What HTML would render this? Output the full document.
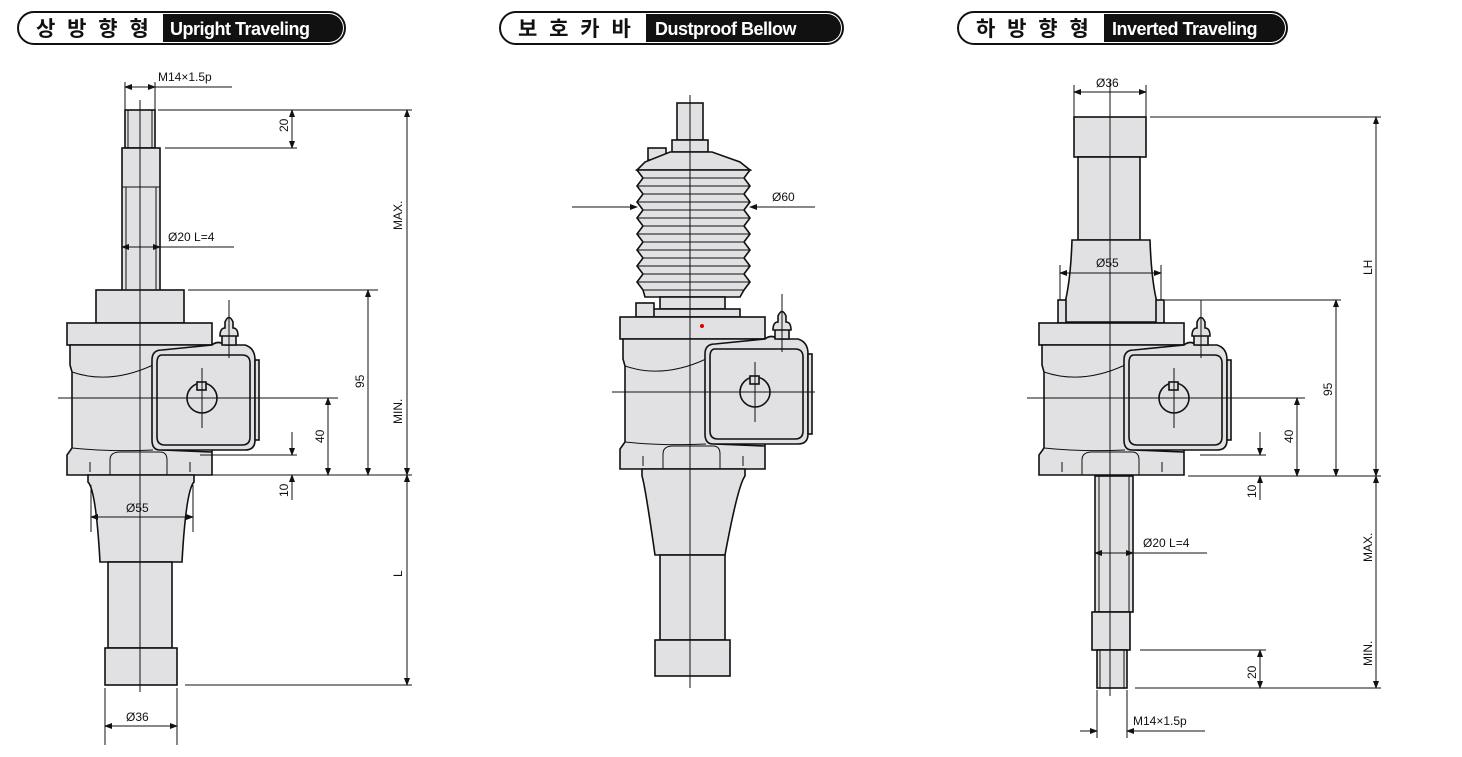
<!DOCTYPE html>
<html><head><meta charset="utf-8"><style>
body{margin:0;background:#fff;}
svg{display:block;font-family:"Liberation Sans","Noto Sans CJK KR",sans-serif;}
.p{fill:#e1e1e3;stroke:#111;stroke-width:1.6}
.l{stroke:#111;stroke-width:1;fill:none}
.t{font-size:12px;fill:#111}
.h{font-size:21px;font-weight:bold;fill:#111;letter-spacing:3px}
.w{font-size:18px;font-weight:bold;fill:#fff;letter-spacing:-0.5px}
</style></head><body>
<svg width="1462" height="757" viewBox="0 0 1462 757">
<defs>
<marker id="a" markerWidth="8" markerHeight="8" refX="7" refY="4" orient="auto-start-reverse" markerUnits="userSpaceOnUse"><path d="M0,1 L8,4 L0,7z" fill="#111"/></marker>
<g id="house">
<rect class="p" x="67" y="323" width="145" height="22"/>
<path class="p" d="M70,345 H212 L218,352 H160 Q153,352 153,360 V440 Q153,448 162,450 L212,452 V445 V475 H67 V455 L72,448 V372 L70,365 Z"/>
<path class="l" d="M72,372 Q110,385 153,365 M72,448 Q110,452 153,450 M110,475 V460 Q110,452 120,452 H160 Q167,452 167,460 V475 M90,462 V472 M190,462 V472"/>
<path class="p" d="M212,345 Q218,340 225,345 H245 Q255,348 255,360 V440 Q255,450 245,450 H160 Q152,450 152,440 V360 Q152,350 162,350 Z"/>
<path class="p" d="M162,355 H242 Q250,355 250,363 V437 Q250,445 242,445 H165 Q157,445 157,437 V363 Q157,355 162,355 Z"/>
<rect class="p" x="255" y="360" width="4" height="80"/>
<circle class="p" cx="202" cy="398" r="15"/>
<rect class="p" x="197" y="382" width="9" height="8"/>
<path class="p" d="M222,345 V336 H236 V345 Z M220,336 Q220,328 225,328 V322 Q229,313 233,322 V328 Q238,328 238,336 Z"/>
<path class="l" d="M202,368 V428 M229,300 V358"/>
</g>
</defs>

<!-- headers -->
<rect x="18" y="12" width="327" height="32" rx="16" fill="#fff" stroke="#111" stroke-width="2"/>
<path d="M163,14 H329 A14,14 0 0 1 329,42 H163 Z" fill="#111"/>
<text class="h" x="36" y="36">상 방 향 형</text><text class="w" x="170" y="35">Upright Traveling</text>
<rect x="500" y="12" width="343" height="32" rx="16" fill="#fff" stroke="#111" stroke-width="2"/>
<path d="M646,14 H827 A14,14 0 0 1 827,42 H646 Z" fill="#111"/>
<text class="h" x="518" y="36">보 호 카 바</text><text class="w" x="655" y="35">Dustproof Bellow</text>
<rect x="958" y="12" width="329" height="32" rx="16" fill="#fff" stroke="#111" stroke-width="2"/>
<path d="M1104,14 H1271 A14,14 0 0 1 1271,42 H1104 Z" fill="#111"/>
<text class="h" x="976" y="36">하 방 향 형</text><text class="w" x="1112" y="35">Inverted Traveling</text>

<!-- LEFT -->
<rect class="p" x="125" y="110" width="30" height="38"/>
<path class="l" d="M128,110 V148 M152,110 V148"/>
<rect class="p" x="122" y="148" width="38" height="175"/>
<path class="l" d="M122,187 H160 M126,187 V322 M156,187 V322"/>
<rect class="p" x="96" y="290" width="88" height="33"/>
<use href="#house"/>
<path class="p" d="M88,475 H194 V482 Q186,490 182,562 H100 Q96,490 88,482 Z"/>
<rect class="p" x="108" y="562" width="64" height="86"/>
<rect class="p" x="105" y="648" width="72" height="37"/>
<path class="l" d="M140,100 V692 M58,398 H338"/>
<!-- left dims -->
<path class="l" d="M125,82 V110 M155,82 V110 M155,87 H232"/>
<path class="l" d="M125,87 H155" marker-start="url(#a)" marker-end="url(#a)"/>
<text class="t" x="158" y="81">M14×1.5p</text>
<path class="l" d="M158,110 H412 M165,148 H297"/>
<path class="l" d="M292,110 V148" marker-start="url(#a)" marker-end="url(#a)"/>
<text class="t" transform="translate(288,132) rotate(-90)">20</text>
<path class="l" d="M122,247 H160" marker-start="url(#a)" marker-end="url(#a)"/><path class="l" d="M160,247 H234"/>
<text class="t" x="168" y="241">Ø20  L=4</text>
<path class="l" d="M188,290 H378 M196,475 H412 M200,455 H297"/>
<path class="l" d="M407,110 V475" marker-start="url(#a)" marker-end="url(#a)"/>
<path class="l" d="M407,475 V685" marker-start="url(#a)" marker-end="url(#a)"/>
<path class="l" d="M185,685 H412"/>
<text class="t" transform="translate(402,230) rotate(-90)">MAX.</text>
<text class="t" transform="translate(402,424) rotate(-90)">MIN.</text>
<text class="t" transform="translate(402,577) rotate(-90)">L</text>
<path class="l" d="M368,290 V475" marker-start="url(#a)" marker-end="url(#a)"/>
<text class="t" transform="translate(364,388) rotate(-90)">95</text>
<path class="l" d="M328,398 V475" marker-start="url(#a)" marker-end="url(#a)"/>
<text class="t" transform="translate(324,443) rotate(-90)">40</text>
<path class="l" d="M292,432 V455" marker-end="url(#a)"/><path class="l" d="M292,500 V475" marker-end="url(#a)"/>
<text class="t" transform="translate(288,497) rotate(-90)">10</text>
<path class="l" d="M91,485 V532 M193,485 V532"/>
<path class="l" d="M91,517 H193" marker-start="url(#a)" marker-end="url(#a)"/>
<text class="t" x="126" y="512">Ø55</text>
<path class="l" d="M105,688 V745 M177,688 V745"/>
<path class="l" d="M105,726 H177" marker-start="url(#a)" marker-end="url(#a)"/>
<text class="t" x="126" y="721">Ø36</text>

<!-- MIDDLE -->
<rect class="p" x="677" y="103" width="26" height="37"/>
<rect class="p" x="672" y="140" width="36" height="12"/>
<rect class="p" x="648" y="148" width="18" height="12"/>
<path class="p" d="M670,152 H712 L740,162 L750,170 L637,170 L645,162 Z"/>
<path class="p" d="M637,170 L750,170 L744,178 L750,186 L744,194 L750,202 L744,210 L750,218 L744,226 L750,234 L744,242 L750,250 L744,258 L750,266 L744,274 L750,282 L744,290 L740,297 H645 L643,290 L637,282 L643,274 L637,266 L643,258 L637,250 L643,242 L637,234 L643,226 L637,218 L643,210 L637,202 L643,194 L637,186 L643,178 Z"/>
<path class="l" d="M643,178 H744 M637,186 H750 M643,194 H744 M637,202 H750 M643,210 H744 M637,218 H750 M643,226 H744 M637,234 H750 M643,242 H744 M637,250 H750 M643,258 H744 M637,266 H750 M643,274 H744 M637,282 H750 M643,290 H744"/>
<rect class="p" x="660" y="297" width="65" height="12"/>
<rect class="p" x="640" y="309" width="100" height="8"/>
<rect class="p" x="636" y="303" width="18" height="14"/>
<use href="#house" transform="translate(553,-6)"/>
<rect class="p" x="650" y="476" width="16" height="10"/>
<path class="p" d="M642,469 H745 V476 Q738,485 725,555 H655 Q645,485 642,476 Z"/>
<rect class="p" x="660" y="555" width="65" height="85"/>
<rect class="p" x="655" y="640" width="75" height="36"/>
<path class="l" d="M690,95 V688 M612,392 H815"/>
<circle cx="702" cy="326" r="2" fill="#d00"/>
<path class="l" d="M572,207 H637 M815,207 H750" />
<path class="l" d="M620,207 H637" marker-end="url(#a)"/><path class="l" d="M767,207 H750" marker-end="url(#a)"/>
<text class="t" x="772" y="201">Ø60</text>

<!-- RIGHT -->
<rect class="p" x="1074" y="117" width="72" height="40"/>
<rect class="p" x="1078" y="157" width="62" height="83"/>
<path class="p" d="M1072,240 H1150 Q1152,300 1164,322 H1058 Q1070,300 1072,240 Z"/>
<rect class="p" x="1058" y="300" width="8" height="23"/>
<rect class="p" x="1156" y="300" width="8" height="23"/>
<use href="#house" transform="translate(972,0)"/>
<rect class="p" x="1095" y="476" width="38" height="136"/>
<path class="l" d="M1099,476 V612 M1129,476 V612"/>
<rect class="p" x="1092" y="612" width="38" height="38"/>
<rect class="p" x="1097" y="650" width="30" height="38"/>
<path class="l" d="M1100,650 V688 M1124,650 V688"/>
<path class="l" d="M1110,80 V696 M1027,398 H1305"/>
<!-- right dims -->
<path class="l" d="M1074,85 V117 M1146,85 V117"/>
<path class="l" d="M1074,92 H1146" marker-start="url(#a)" marker-end="url(#a)"/>
<text class="t" x="1096" y="87">Ø36</text>
<path class="l" d="M1060,265 V300 M1161,265 V300"/>
<path class="l" d="M1060,273 H1161" marker-start="url(#a)" marker-end="url(#a)"/>
<text class="t" x="1096" y="267">Ø55</text>
<path class="l" d="M1150,117 H1381 M1165,300 H1341 M1188,476 H1381 M1200,455 H1266 M1140,650 H1266 M1135,688 H1381"/>
<path class="l" d="M1376,117 V476" marker-start="url(#a)" marker-end="url(#a)"/>
<text class="t" transform="translate(1372,275) rotate(-90)">LH</text>
<path class="l" d="M1376,476 V688" marker-start="url(#a)" marker-end="url(#a)"/>
<text class="t" transform="translate(1372,562) rotate(-90)">MAX.</text>
<text class="t" transform="translate(1372,666) rotate(-90)">MIN.</text>
<path class="l" d="M1336,300 V476" marker-start="url(#a)" marker-end="url(#a)"/>
<text class="t" transform="translate(1332,396) rotate(-90)">95</text>
<path class="l" d="M1297,398 V476" marker-start="url(#a)" marker-end="url(#a)"/>
<text class="t" transform="translate(1293,443) rotate(-90)">40</text>
<path class="l" d="M1260,432 V455" marker-end="url(#a)"/><path class="l" d="M1260,500 V476" marker-end="url(#a)"/>
<text class="t" transform="translate(1256,498) rotate(-90)">10</text>
<path class="l" d="M1260,650 V688" marker-start="url(#a)" marker-end="url(#a)"/>
<text class="t" transform="translate(1256,679) rotate(-90)">20</text>
<path class="l" d="M1095,553 H1133" marker-start="url(#a)" marker-end="url(#a)"/><path class="l" d="M1133,553 H1207"/>
<text class="t" x="1143" y="547">Ø20  L=4</text>
<path class="l" d="M1097,690 V738 M1127,690 V738"/>
<path class="l" d="M1080,731 H1097" marker-end="url(#a)"/><path class="l" d="M1144,731 H1127" marker-end="url(#a)"/>
<path class="l" d="M1127,731 H1205"/>
<text class="t" x="1133" y="725">M14×1.5p</text>
</svg>
</body></html>
